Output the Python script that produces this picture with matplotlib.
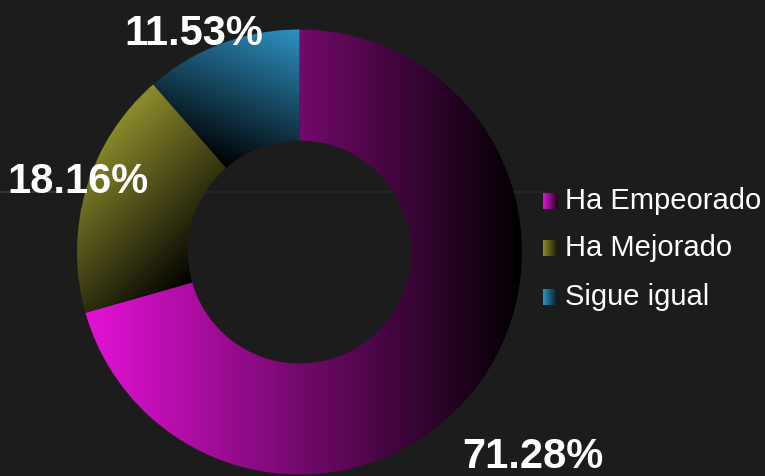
import numpy as np
import matplotlib
matplotlib.use("Agg")
import matplotlib.pyplot as plt
from matplotlib.colors import to_rgb

# Survey answers: how the situation has changed
categories = ["Ha Empeorado", "Ha Mejorado", "Sigue igual"]
shares = [71.28, 18.16, 11.53]
value_labels = ["71.28%", "18.16%", "11.53%"]

# Bright end of each slice's gradient (fades to black)
base_colors = ["#e412d6", "#8c8c2c", "#2e92c4"]
# Gradient direction per slice (data coords, from bright to dark)
grad_dirs = [(1.0, 0.0), (1.0, -1.0), (-0.4, -1.0)]

BG = "#1c1c1c"
W, H = 765, 477

plt.rcParams["font.family"] = ["Liberation Sans", "DejaVu Sans"]

fig = plt.figure(figsize=(W / 100, H / 100), dpi=100, facecolor=BG)
ax = fig.add_axes([0, 0, 1, 1])
ax.set_facecolor(BG)
ax.axis("off")

# faint horizontal guide behind the ring
ax.plot([0, 545], [284, 284], color="#272727", lw=1.2, zorder=0)
ax.plot([0, 55], [284, 284], color="#3a3a3a", lw=1.2, zorder=0)

center = (299.5, 224)
radius = 222.5
wedges, _ = ax.pie(shares, startangle=90, counterclock=False,
                   center=center, radius=radius, frame=False,
                   wedgeprops=dict(width=111, linewidth=0, edgecolor="none"))


def gradient_image(c0, direction, xs, ys, proj_min, proj_max):
    gx, gy = np.meshgrid(xs, ys)
    d = np.asarray(direction, float)
    d /= np.linalg.norm(d)
    p = gx * d[0] + gy * d[1]
    t = np.clip((p - proj_min) / (proj_max - proj_min), 0, 1)[..., None]
    c0 = np.asarray(to_rgb(c0))
    return c0 * (1 - t)


for w, col, d in zip(wedges, base_colors, grad_dirs):
    path = w.get_path()
    verts = np.vstack(path.to_polygons())
    x0, y0 = verts.min(axis=0)
    x1, y1 = verts.max(axis=0)
    dn = np.asarray(d, float) / np.linalg.norm(d)
    proj = verts @ dn
    xs = np.linspace(x0, x1, 300)
    ys = np.linspace(y0, y1, 300)
    img = gradient_image(col, d, xs, ys, proj.min(), proj.max())
    w.set_facecolor("none")
    im = ax.imshow(img, extent=(x0, x1, y0, y1), origin="lower",
                   interpolation="bilinear", zorder=2, aspect="auto")
    im.set_clip_path(w)

# percentage labels
label_pos = [(533, 9), (78, 284), (194, 432)]
for txt, (x, y) in zip(value_labels, label_pos):
    ax.text(x, y, txt, color="white", fontsize=30, fontweight="bold",
            ha="center", va="baseline", zorder=5)

# legend with gradient swatches
legend_base = [268, 221, 172]
for name, col, yb in zip(categories, base_colors, legend_base):
    sw = np.linspace(0, 0.85, 50)[None, :, None]
    swatch = np.asarray(to_rgb(col)) * (1 - sw)
    swatch = np.repeat(swatch, 2, axis=0)
    ax.imshow(swatch, extent=(543, 558, yb - 1, yb + 15), origin="lower",
              interpolation="bilinear", zorder=5, aspect="auto")
    ax.text(565, yb, name, color="white", fontsize=21, ha="left",
            va="baseline", zorder=5)

ax.set_xlim(0, W)
ax.set_ylim(0, H)
ax.set_aspect("auto")

fig.savefig("out.png", dpi=100, facecolor=BG)
